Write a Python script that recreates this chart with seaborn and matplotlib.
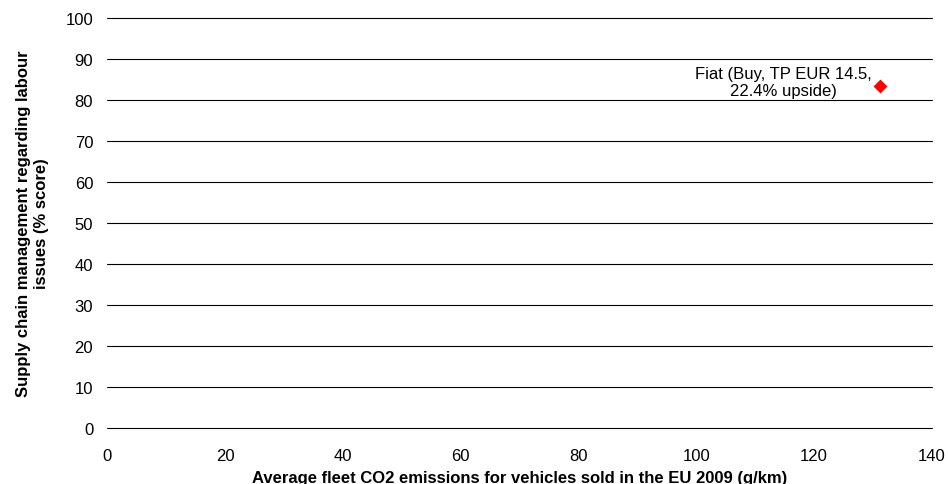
import matplotlib
matplotlib.use("Agg")
import matplotlib.pyplot as plt
import seaborn as sns
import pandas as pd

# data
companies = ["Fiat (Buy, TP EUR 14.5,\n22.4% upside)"]
co2_gkm = [131.2]
labour_score = [83.3]

df = pd.DataFrame({"company": companies, "co2": co2_gkm, "score": labour_score})

sns.set_theme(style="white")
plt.rcParams["font.family"] = ["Liberation Sans", "DejaVu Sans"]
plt.rcParams["text.color"] = "black"
plt.rcParams["axes.labelcolor"] = "black"

fig = plt.figure(figsize=(9.48, 4.85), dpi=100)
ax = fig.add_axes([0.113, 0.115, 0.87, 0.846])

sns.scatterplot(data=df, x="co2", y="score", marker="D", color="#ff0000",
                s=50, edgecolor="#ff0000", linewidth=0, ax=ax, zorder=3)

for _, r in df.iterrows():
    ax.annotate(r["company"], (r["co2"], r["score"]), xytext=(-6, 3),
                textcoords="offset points", ha="right", va="center",
                multialignment="center", fontsize=12, color="black")

ax.set_xlim(0, 140)
ax.set_ylim(0, 100)
ax.set_xticks(range(0, 141, 20))
ax.set_yticks(range(0, 101, 10))
ax.yaxis.grid(True, color="black", linewidth=0.8)
for gl in ax.get_ygridlines():
    gl.set_clip_on(False)
ax.set_axisbelow(True)
for s in ax.spines.values():
    s.set_visible(False)
ax.tick_params(axis="both", length=0, labelsize=12, colors="black")
ax.tick_params(axis="y", pad=10)
ax.tick_params(axis="x", pad=14)

ax.set_xlabel("Average fleet CO2 emissions for vehicles sold in the EU 2009 (g/km)",
              fontsize=12, fontweight="bold", labelpad=5)
ax.set_ylabel("Supply chain management regarding labour\nissues (% score)",
              fontsize=12, fontweight="bold", labelpad=12)

fig.savefig("out.png", dpi=100)
